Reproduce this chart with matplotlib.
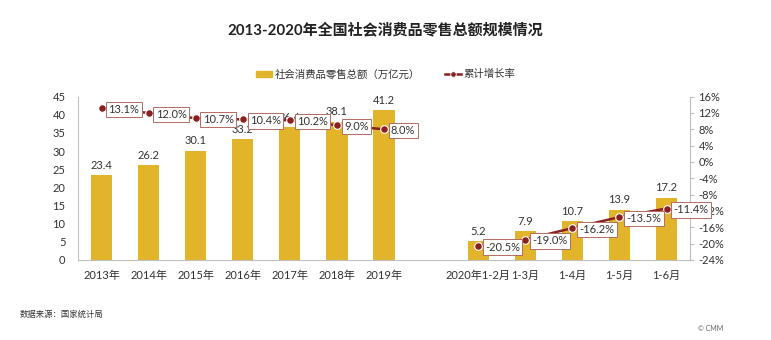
import numpy as np
import matplotlib
matplotlib.use("Agg")
import matplotlib.pyplot as plt
from matplotlib.lines import Line2D
from matplotlib.patches import Patch

plt.rcParams['font.family'] = ['Lato', 'Noto Sans CJK SC', 'DejaVu Sans']

# 年度数据
years = ['2013年', '2014年', '2015年', '2016年', '2017年', '2018年', '2019年']
year_sales = [23.4, 26.2, 30.1, 33.2, 36.6, 38.1, 41.2]
year_growth = [13.1, 12.0, 10.7, 10.4, 10.2, 9.0, 8.0]

# 2020年累计数据
months = ['2020年1-2月', '1-3月', '1-4月', '1-5月', '1-6月']
month_sales = [5.2, 7.9, 10.7, 13.9, 17.2]
month_growth = [-20.5, -19.0, -16.2, -13.5, -11.4]

BAR = '#E2B42A'
LINE = '#8B2020'
TXT = '#333333'
SPINE = '#BFBFBF'

# 年度与月度之间空一格
x_year = np.arange(len(years))
x_month = np.arange(len(months)) + len(years) + 1

fig = plt.figure(figsize=(7.71, 3.40), dpi=100)
ax = fig.add_axes([0.1012, 0.2353, 0.7938, 0.4808])
ax2 = ax.twinx()

ax.bar(x_year, year_sales, width=0.45, color=BAR, zorder=2)
ax.bar(x_month, month_sales, width=0.45, color=BAR, zorder=2)

for xs, vals in ((x_year, year_sales), (x_month, month_sales)):
    for x, v in zip(xs, vals):
        ax.annotate(f'{v:.1f}', (x, v), xytext=(0, 3), textcoords='offset points',
                    ha='center', va='bottom', fontsize=8, color=TXT, zorder=3)

ax.set_xlim(-0.5, x_month[-1] + 0.5)
ax.set_ylim(0, 45)
ax.set_yticks(range(0, 46, 5))
ax.set_xticks(list(x_year) + list(x_month))
ax.set_xticklabels(years + months)
ax.tick_params(axis='x', length=0, pad=7, labelsize=8, labelcolor=TXT)
ax.tick_params(axis='y', length=0, pad=9, labelsize=8, labelcolor=TXT)

ax2.set_ylim(-24, 16)
ax2.set_yticks(range(-24, 17, 4))
ax2.set_yticklabels([f'{t}%' for t in range(-24, 17, 4)])
ax2.tick_params(axis='y', length=3, color=SPINE, pad=3, labelsize=8, labelcolor=TXT)

for a in (ax, ax2):
    a.spines['top'].set_visible(False)
    a.spines['left'].set_color(SPINE)
    a.spines['right'].set_color(SPINE)
    a.spines['bottom'].set_color(SPINE)
ax.spines['right'].set_visible(False)
ax2.spines['left'].set_visible(False)
ax2.spines['bottom'].set_visible(False)

# 增长率折线，两段分开画
for xs, vals in ((x_year, year_growth), (x_month, month_growth)):
    ax2.plot(xs, vals, color=LINE, lw=1.8, marker='o', markersize=5.5,
             markerfacecolor=LINE, markeredgecolor='white', markeredgewidth=0.8, zorder=4)
    for x, v in zip(xs, vals):
        ax2.annotate(f'{v:.1f}%', (x, v), xytext=(5, -1), textcoords='offset points',
                     ha='left', va='center', fontsize=8, color=TXT, zorder=5,
                     bbox=dict(boxstyle='square,pad=0.2', fc='white', ec='#B56B63', lw=0.7))

handles = [Patch(color=BAR),
           Line2D([], [], color=LINE, lw=1.8, marker='o', markersize=4,
                  markerfacecolor=LINE, markeredgecolor='white', markeredgewidth=0.6)]
fig.legend(handles, ['社会消费品零售总额（万亿元）', '累计增长率'],
           loc='center', bbox_to_anchor=(0.5, 0.782), ncol=2, frameon=False,
           fontsize=7.5, handlelength=1.6, handleheight=0.5, columnspacing=2.4,
           handletextpad=0.2, labelcolor=TXT)

fig.text(0.5, 0.912, '2013-2020年全国社会消费品零售总额规模情况', ha='center', va='center',
         fontsize=10.8, fontweight='bold', color='#222222')
fig.text(0.026, 0.078, '数据来源：国家统计局', ha='left', va='center', fontsize=6, color=TXT)
fig.text(0.905, 0.035, '© CMM', ha='left', va='center', fontsize=5, color='#666666')

fig.savefig('out.png', dpi=100)
